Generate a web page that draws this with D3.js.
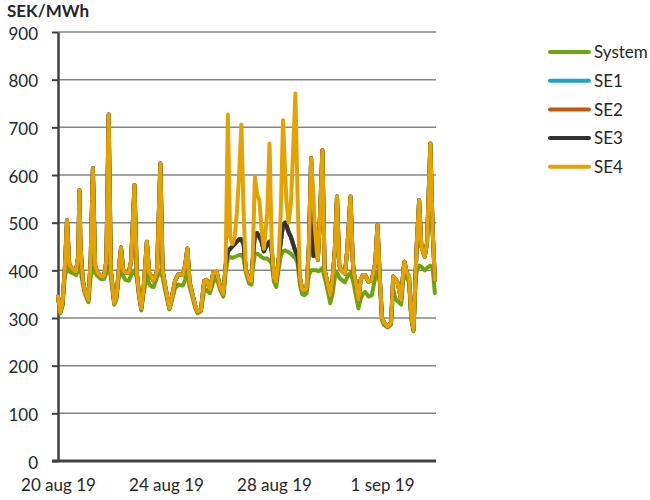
<!DOCTYPE html>
<html><head><meta charset="utf-8">
<script src="https://cdn.jsdelivr.net/npm/d3@7"></script>
<style>
body{margin:0;background:#fff}
svg{display:block}
text{font-family:Lato,"Open Sans",sans-serif;fill:#262626}
</style>
</head><body>
<svg id="c" width="650" height="500"></svg>
<script>
// hours since 20 aug 2019 00:00
const hours = [0,2,4,6,8,10,12,14,16,18,19,20,22,
24,27,29,31,33,35,38,41,43,45,47,
50,52,54,56,58,60,63,65,68,70,
72,74,76,79,81,83,85,88,91,93,95,
99,101,104,107,111,113,115,117,
120,122,124,127,130,132,135,138,141,
144,147,149,151,153,155,157,159,161,163,165,167,
170,172,173,175,177,179,181,183,186,188,190,192,
194,196,198,200,202,203,205,207,209,211,213,215,
217,219,221,223,225,227,228,230,231,233,235,237,239,
242,244,246,248,250,252,255,257,258,260,262,263,
265,267,269,271,273,276,279,282,284,286,
288,290,293,296,298,300,302,305,307,308,310,312,
314,316,318,319,321,323,326,328,331,333,335];

const system = [342,310,325,385,410,398,395,393,390,400,410,402,372,
350,333,385,405,395,388,382,382,395,410,385,
328,340,385,400,388,380,378,390,400,385,
345,316,350,390,372,366,365,385,400,385,360,
318,335,362,370,368,380,395,365,
340,320,310,314,360,358,352,375,385,
360,345,395,425,428,426,428,430,432,432,425,395,
372,370,400,435,435,432,428,425,425,420,415,375,
365,400,430,440,442,440,438,435,430,425,415,370,
350,348,352,390,400,400,400,400,398,400,405,385,365,
331,350,385,395,385,380,375,385,390,395,380,370,
345,320,340,350,355,345,348,385,395,375,
295,285,280,286,360,340,335,328,380,395,385,375,
298,272,385,400,410,408,400,405,410,405,352];

const se1 = [345,312,330,400,505,412,405,400,398,430,568,450,380,
355,338,420,614,410,395,388,388,420,727,400,
331,345,400,448,400,395,395,420,579,397,
350,320,360,460,395,387,378,398,624,400,370,
320,340,378,392,390,410,446,375,
345,325,313,317,378,380,360,395,397,
366,350,410,440,445,450,455,460,465,465,455,400,
380,376,420,475,478,470,460,440,455,460,440,385,
376,420,460,495,500,495,480,470,455,440,430,385,
360,358,362,450,635,430,440,440,422,520,652,400,380,
348,380,440,555,410,400,393,440,478,555,420,394,
370,338,380,390,390,376,380,415,495,386,
300,290,282,290,387,382,373,338,400,418,395,387,
303,275,400,460,547,450,429,457,666,485,380];

const se2 = [345,312,330,400,505,412,405,400,398,430,568,450,380,
355,338,420,614,410,395,388,388,420,727,400,
331,345,400,448,400,395,395,420,579,397,
350,320,360,460,395,387,378,398,624,400,370,
320,340,378,392,390,410,446,375,
345,325,313,317,378,380,360,395,397,
366,350,410,440,445,450,455,460,465,465,455,400,
380,376,420,475,478,470,460,440,455,460,440,385,
376,420,460,495,500,495,480,470,455,440,430,385,
360,358,362,450,635,460,465,440,422,520,652,400,380,
348,380,440,555,410,400,393,440,478,555,420,394,
370,338,380,390,390,376,380,415,495,386,
300,290,282,290,387,382,373,338,400,418,395,387,
303,275,400,460,547,450,429,457,666,485,380];

const se3 = [345,312,330,400,505,412,405,400,398,430,568,450,380,
355,338,420,614,410,395,388,388,420,727,400,
331,345,400,448,400,395,395,420,579,397,
350,320,360,460,395,387,378,398,624,400,370,
320,340,378,392,390,410,446,375,
345,325,313,317,378,380,360,395,397,
366,350,410,440,445,450,455,460,465,465,455,400,
380,376,420,475,478,470,460,440,455,460,440,385,
376,420,460,495,500,495,480,470,455,440,430,385,
360,358,362,450,635,430,440,440,422,520,652,400,380,
348,380,440,555,410,400,393,440,478,555,420,394,
370,338,380,390,390,376,380,415,495,386,
300,290,282,290,387,382,373,338,400,418,395,387,
303,275,400,460,547,450,429,457,666,485,380];

const se4 = [345,312,330,400,505,412,405,400,398,430,568,450,380,
355,338,420,614,410,395,388,388,420,727,400,
331,345,400,448,400,395,395,420,579,397,
350,320,360,460,395,387,378,398,624,400,370,
320,340,378,392,390,410,446,375,
345,325,313,317,378,380,360,395,397,
366,350,410,727,470,455,470,520,600,706,520,400,
380,376,420,596,560,547,485,445,520,666,450,385,
376,420,520,715,600,547,500,540,650,771,550,385,
360,358,362,450,635,560,500,440,422,520,652,400,380,
348,380,440,555,410,400,393,440,478,555,420,394,
370,338,380,390,390,376,380,415,495,386,
300,290,282,290,387,382,373,338,400,418,395,387,
303,275,400,460,547,450,429,457,666,485,380];

const seriesNames = ["System","SE1","SE2","SE3","SE4"];
const seriesColors = ["#6ea50f","#1aa3cf","#c05a0e","#333333","#e4a300"];
const yTicks = [0,100,200,300,400,500,600,700,800,900];
const xTickHours = [0,96,192,288];
const xTickLabels = ["20 aug 19","24 aug 19","28 aug 19","1 sep 19"];
const yTitle = "SEK/MWh";

const t0 = Date.UTC(2019,7,20);
const toDate = h => new Date(t0 + h*3600000);

const svg = d3.select("#c");
const x = d3.scaleUtc().domain([toDate(0), toDate(336)]).range([58,436]);
const y = d3.scaleLinear().domain([0,900]).range([461,32]);

// gridlines
svg.append("g").selectAll("line").data(yTicks.filter(d=>d>0)).join("line")
  .attr("x1",58).attr("x2",436)
  .attr("y1",d=>y(d)).attr("y2",d=>y(d))
  .attr("stroke","#858585").attr("stroke-width",1.5);

// y axis
const gy = svg.append("g").attr("transform","translate(58,0)")
  .call(d3.axisLeft(y).tickValues(yTicks).tickSize(6).tickSizeOuter(0).tickPadding(14));
gy.select(".domain").attr("stroke","#404040").attr("stroke-width",2.5);
gy.selectAll(".tick line").attr("stroke","#404040").attr("stroke-width",2);
gy.selectAll(".tick text").style("font-size","17px").attr("fill","#262626").attr("dy","0.42em");

// x axis
const gx = svg.append("g").attr("transform",`translate(0,${y(0)})`)
  .call(d3.axisBottom(x).tickValues(xTickHours.map(toDate)).tickSize(0).tickPadding(18)
    .tickFormat((d,i)=>xTickLabels[i]));
gx.select(".domain").remove();
gx.selectAll(".tick text").style("font-size","17px").attr("fill","#262626");
svg.append("line").attr("x1",52).attr("x2",436).attr("y1",y(0)).attr("y2",y(0))
  .attr("stroke","#404040").attr("stroke-width",3);

// title
svg.append("text").attr("x",7).attr("y",17).text(yTitle)
  .style("font-size","17px").style("font-weight","bold");

// lines
const data = [system, se1, se2, se3, se4];
const line = d3.line().x((d,i)=>x(toDate(hours[i]))).y(d=>y(d));
svg.append("g").selectAll("path").data(data).join("path")
  .attr("d",line).attr("fill","none")
  .attr("stroke",(d,i)=>seriesColors[i]).attr("stroke-width",4)
  .attr("stroke-linejoin","round").attr("stroke-linecap","round");

// legend
const lg = svg.append("g").selectAll("g").data(seriesNames).join("g")
  .attr("transform",(d,i)=>`translate(550,${52+i*28.7})`);
lg.append("line").attr("x1",0).attr("x2",39).attr("y1",0).attr("y2",0)
  .attr("stroke",(d,i)=>seriesColors[i]).attr("stroke-width",4).attr("stroke-linecap","round");
lg.append("text").attr("x",44).attr("dy","0.36em").text(d=>d).style("font-size","17px");
</script>
</body></html>
